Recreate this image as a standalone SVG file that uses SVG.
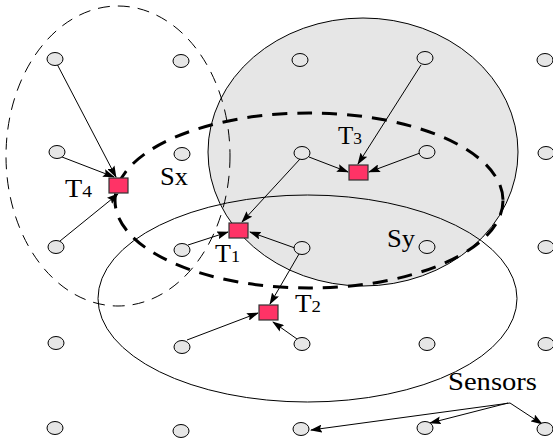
<svg xmlns="http://www.w3.org/2000/svg" width="553" height="445" viewBox="0 0 553 445">
<style>
.s{fill:#e6e6e6;stroke:#000;stroke-width:1}
.t{fill:#ff3366;stroke:#333;stroke-width:1.2}
.a{stroke:#000;stroke-width:1;fill:none;marker-end:url(#ah)}
.lb{font-family:"Liberation Serif","Times New Roman",serif;font-size:24.5px;fill:#000}
.sub{font-size:17px}
</style>
<defs>
<marker id="ah" markerUnits="userSpaceOnUse" markerWidth="12" markerHeight="8" refX="11" refY="4" orient="auto">
<path d="M0,0 L12,4 L0,8 L2,4 z" fill="#000"/>
</marker>
</defs>
<rect width="553" height="445" fill="#fff"/>
<g id="regions">
<ellipse id="Sy-region" cx="363" cy="152" rx="155" ry="134" fill="#e6e6e6" stroke="#000" stroke-width="1"/>
<ellipse id="lower-region" cx="307.5" cy="298.5" rx="209.5" ry="103.5" fill="none" stroke="#000" stroke-width="1"/>
<ellipse id="T4-region" cx="118" cy="156" rx="112" ry="150" fill="none" stroke="#000" stroke-width="1" stroke-dasharray="12 8"/>
<ellipse id="Sx-region" cx="309" cy="200.5" rx="194" ry="87.5" fill="none" stroke="#000" stroke-width="3" stroke-dasharray="15 10"/>
</g>
<g id="connectors">
<line class="a" x1="57" y1="64" x2="116" y2="177"/>
<line class="a" x1="62" y1="157" x2="114" y2="177"/>
<line class="a" x1="60" y1="241" x2="118" y2="194"/>
<line class="a" x1="300" y1="159" x2="242" y2="222"/>
<line class="a" x1="295" y1="248" x2="250" y2="232"/>
<line class="a" x1="188" y1="245" x2="228" y2="232"/>
<line class="a" x1="299" y1="254" x2="270" y2="304"/>
<line class="a" x1="187" y1="340" x2="258" y2="313"/>
<line class="a" x1="297" y1="339" x2="273" y2="322"/>
<line class="a" x1="421" y1="65" x2="358" y2="164"/>
<line class="a" x1="309" y1="157" x2="348" y2="172"/>
<line class="a" x1="420" y1="153" x2="369" y2="172"/>
<line class="a" x1="510" y1="403" x2="311" y2="430"/>
<line class="a" x1="508" y1="403" x2="430" y2="423"/>
<line class="a" x1="510" y1="403" x2="542" y2="424"/>
</g>
<g id="sensors">
<ellipse class="s" cx="55" cy="59" rx="8" ry="6.5"/>
<ellipse class="s" cx="181" cy="61" rx="8" ry="6.5"/>
<ellipse class="s" cx="300" cy="60" rx="8" ry="6.5"/>
<ellipse class="s" cx="425" cy="58" rx="8" ry="6.5"/>
<ellipse class="s" cx="545" cy="60" rx="8" ry="6.5"/>
<ellipse class="s" cx="57" cy="152" rx="8" ry="6.5"/>
<ellipse class="s" cx="182" cy="154" rx="8" ry="6.5"/>
<ellipse class="s" cx="302" cy="153" rx="8" ry="6.5"/>
<ellipse class="s" cx="427" cy="152" rx="8" ry="6.5"/>
<ellipse class="s" cx="546" cy="153" rx="8" ry="6.5"/>
<ellipse class="s" cx="56" cy="247" rx="8" ry="6.5"/>
<ellipse class="s" cx="182" cy="250" rx="8" ry="6.5"/>
<ellipse class="s" cx="302" cy="248" rx="8" ry="6.5"/>
<ellipse class="s" cx="427" cy="247" rx="8" ry="6.5"/>
<ellipse class="s" cx="546" cy="247" rx="8" ry="6.5"/>
<ellipse class="s" cx="56" cy="343" rx="8" ry="6.5"/>
<ellipse class="s" cx="182" cy="347" rx="8" ry="6.5"/>
<ellipse class="s" cx="302" cy="344" rx="8" ry="6.5"/>
<ellipse class="s" cx="427" cy="344" rx="8" ry="6.5"/>
<ellipse class="s" cx="546" cy="344" rx="8" ry="6.5"/>
<ellipse class="s" cx="55" cy="428" rx="8" ry="6.5"/>
<ellipse class="s" cx="181" cy="431" rx="8" ry="6.5"/>
<ellipse class="s" cx="301" cy="429" rx="8" ry="6.5"/>
<ellipse class="s" cx="425" cy="428" rx="8" ry="6.5"/>
<ellipse class="s" cx="545" cy="429" rx="8" ry="6.5"/>
</g>
<g id="T1"><rect class="t" x="229" y="223" width="19" height="15"/><text class="lb" x="215" y="262" textLength="25" lengthAdjust="spacingAndGlyphs">T<tspan class="sub">1</tspan></text></g>
<g id="T2"><rect class="t" x="259" y="305" width="19" height="15"/><text class="lb" x="295" y="312" textLength="26" lengthAdjust="spacingAndGlyphs">T<tspan class="sub">2</tspan></text></g>
<g id="T3"><rect class="t" x="349" y="165" width="19" height="15"/><text class="lb" x="338" y="144" textLength="24" lengthAdjust="spacingAndGlyphs">T<tspan class="sub">3</tspan></text></g>
<g id="T4"><rect class="t" x="109" y="178" width="19" height="15"/><text class="lb" x="65" y="197" textLength="27" lengthAdjust="spacingAndGlyphs">T<tspan class="sub">4</tspan></text></g>
<g id="labels">
<text class="lb" x="160" y="185" textLength="28" lengthAdjust="spacingAndGlyphs">Sx</text>
<text class="lb" x="387" y="247" textLength="28" lengthAdjust="spacingAndGlyphs">Sy</text>
<text class="lb" x="448" y="390" textLength="89" lengthAdjust="spacingAndGlyphs">Sensors</text>
</g>
</svg>
